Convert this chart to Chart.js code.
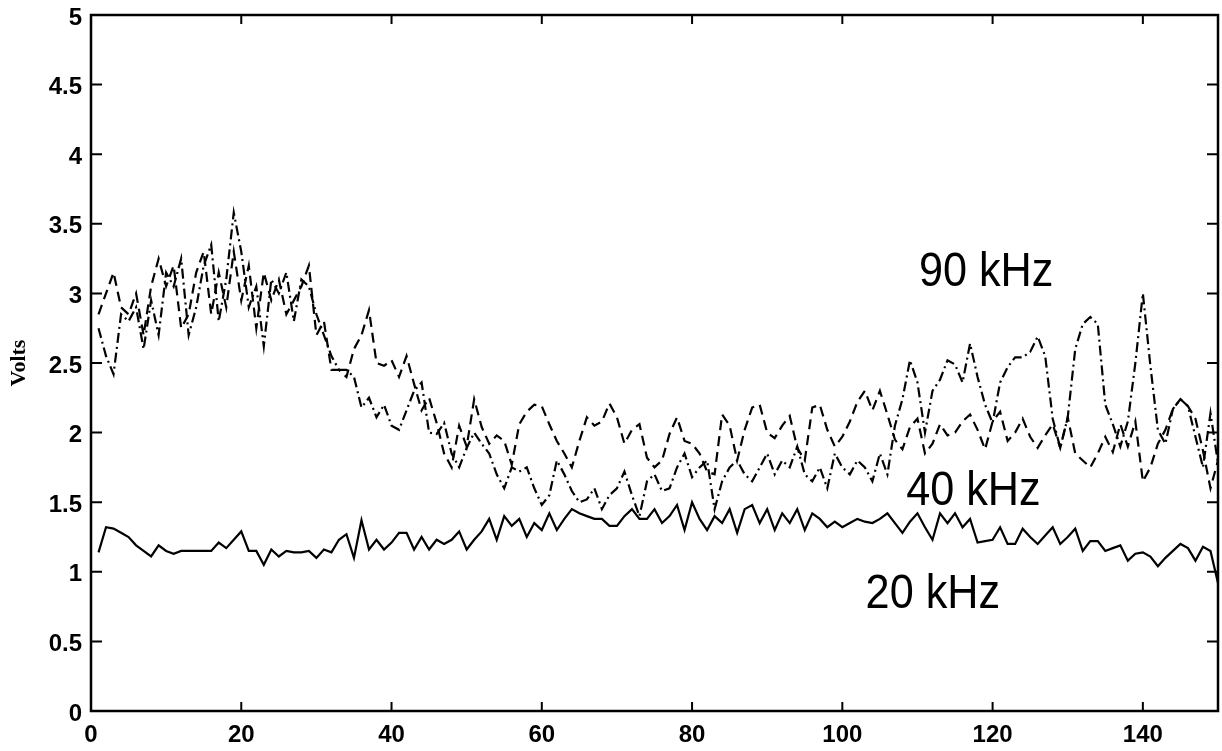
<!DOCTYPE html>
<html lang="en">
<head>
    <meta charset="UTF-8">
    <title>Volts vs sample</title>
    <script src="https://cdn.jsdelivr.net/npm/chart.js"></script>
    <style>
        body {
            margin: 0;
            padding: 0;
            background-color: #fff;
        }
        #wrap {
            width: 1222px;
            height: 751px;
        }
    </style>
</head>
<body>
    <div id="wrap">
        <canvas id="voltsChart" width="1222" height="751"></canvas>
    </div>

    <script>
        // sample index 1..150
        const samples = Array.from({ length: 150 }, (_, i) => i + 1);

        // 20 kHz (solid)
        const volts20 = [
            1.14, 1.32, 1.31, 1.28, 1.25, 1.19, 1.15, 1.11, 1.19, 1.15,
            1.13, 1.15, 1.15, 1.15, 1.15, 1.15, 1.21, 1.17, 1.23, 1.29,
            1.15, 1.15, 1.05, 1.16, 1.11, 1.15, 1.14, 1.14, 1.15, 1.10,
            1.16, 1.14, 1.23, 1.27, 1.10, 1.37, 1.16, 1.23, 1.16, 1.21,
            1.28, 1.28, 1.16, 1.25, 1.16, 1.23, 1.20, 1.23, 1.29, 1.16,
            1.23, 1.29, 1.38, 1.23, 1.40, 1.33, 1.38, 1.25, 1.35, 1.30,
            1.42, 1.30, 1.38, 1.45, 1.42, 1.40, 1.38, 1.38, 1.33, 1.33,
            1.40, 1.45, 1.38, 1.38, 1.45, 1.35, 1.40, 1.48, 1.30, 1.50,
            1.38, 1.30, 1.40, 1.35, 1.45, 1.28, 1.45, 1.48, 1.35, 1.45,
            1.30, 1.42, 1.35, 1.45, 1.30, 1.42, 1.38, 1.32, 1.36, 1.32,
            1.35, 1.38, 1.36, 1.35, 1.38, 1.42, 1.35, 1.28, 1.36, 1.42,
            1.32, 1.23, 1.42, 1.35, 1.42, 1.32, 1.38, 1.21, 1.22, 1.23,
            1.32, 1.20, 1.20, 1.31, 1.25, 1.20, 1.26, 1.32, 1.20, 1.25,
            1.31, 1.15, 1.22, 1.22, 1.15, 1.17, 1.19, 1.08, 1.13, 1.14,
            1.11, 1.04, 1.10, 1.15, 1.20, 1.17, 1.08, 1.18, 1.15, 0.92
        ];

        // 40 kHz (dashed)
        const volts40 = [
            2.85, 3.00, 3.15, 2.90, 2.85, 3.00, 2.70, 3.05, 3.25, 3.05,
            3.20, 2.75, 2.85, 3.15, 3.30, 2.85, 3.15, 2.90, 3.30, 2.95,
            3.20, 2.75, 3.15, 2.95, 3.10, 2.85, 2.95, 3.05, 3.20, 2.70,
            2.80, 2.45, 2.45, 2.40, 2.60, 2.70, 2.88, 2.50, 2.48, 2.52,
            2.40, 2.55, 2.35, 2.16, 2.25, 2.07, 1.85, 1.75, 2.05, 1.90,
            2.24, 2.04, 1.92, 1.98, 1.94, 1.77, 2.06, 2.15, 2.20, 2.19,
            2.06, 1.94, 1.85, 1.75, 1.94, 2.11, 2.05, 2.08, 2.21, 2.11,
            1.92, 2.02, 2.06, 1.82, 1.75, 1.80, 1.99, 2.11, 1.94, 1.92,
            1.85, 1.72, 1.70, 2.13, 2.05, 1.80, 2.02, 2.18, 2.20, 2.00,
            1.96, 2.05, 2.12, 1.89, 1.80, 2.18, 2.20, 2.02, 1.90, 1.97,
            2.08, 2.22, 2.30, 2.16, 2.30, 2.13, 1.95, 1.88, 2.04, 2.10,
            1.85, 1.92, 2.06, 1.98, 2.00, 2.08, 2.13, 2.02, 1.88, 2.08,
            2.15, 1.94, 2.00, 2.10, 1.97, 1.89, 1.98, 2.06, 1.89, 2.11,
            1.85, 1.80, 1.75, 1.85, 1.97, 1.86, 2.06, 1.90, 2.08, 1.65,
            1.75, 1.92, 2.02, 2.17, 2.24, 2.19, 2.10, 1.87, 1.60, 1.80
        ];

        // 90 kHz (dash-dot)
        const volts90 = [
            2.75, 2.55, 2.42, 2.85, 2.80, 2.90, 2.60, 2.95, 2.70, 3.15,
            3.05, 3.25, 2.70, 2.90, 3.20, 3.35, 2.80, 3.10, 3.58, 3.30,
            2.90, 3.05, 2.62, 3.10, 3.00, 3.15, 2.80, 3.10, 3.05, 2.85,
            2.70, 2.55, 2.45, 2.45, 2.40, 2.18, 2.25, 2.11, 2.20, 2.05,
            2.02, 2.16, 2.30, 2.36, 2.00, 1.99, 2.07, 1.85, 1.75, 1.89,
            2.00, 1.92, 1.85, 1.70, 1.60, 1.75, 1.72, 1.75, 1.60, 1.48,
            1.55, 1.80, 1.70, 1.58, 1.50, 1.52, 1.60, 1.45, 1.55, 1.60,
            1.72, 1.55, 1.40, 1.65, 1.70, 1.58, 1.60, 1.75, 1.85, 1.68,
            1.75, 1.80, 1.45, 1.65, 1.75, 1.80, 1.70, 1.65, 1.75, 1.85,
            1.70, 1.80, 1.75, 1.90, 1.70, 1.65, 1.75, 1.60, 1.85, 1.75,
            1.70, 1.80, 1.75, 1.65, 1.85, 1.70, 2.05, 2.24, 2.52, 2.36,
            2.00, 2.30, 2.38, 2.52, 2.49, 2.36, 2.64, 2.40, 2.20, 2.07,
            2.36, 2.47, 2.54, 2.54, 2.58, 2.69, 2.55, 2.10, 1.89, 2.11,
            2.60, 2.78, 2.83, 2.78, 2.20, 2.06, 1.90, 2.08, 2.50, 3.00,
            2.48, 2.02, 1.92, 2.17, 2.24, 2.19, 1.97, 1.75, 2.14, 1.78
        ];

        // text labels next to the curves: [text, x, y]
        const curveLabels = [
            ["90 kHz", 110.2, 3.05],
            ["40 kHz", 108.5, 1.48],
            ["20 kHz", 103.1, 0.74]
        ];

        const toPoints = (ys) => ys.map((y, i) => ({ x: samples[i], y }));

        // frame, inward ticks and curve labels
        const framePlugin = {
            id: "frame",
            afterDraw(chart) {
                const { ctx, chartArea: a, scales } = chart;
                const xs = scales.x;
                const ys = scales.y;
                ctx.save();
                ctx.strokeStyle = "#000";
                ctx.lineWidth = 2.5;
                ctx.strokeRect(a.left, a.top, a.right - a.left, a.bottom - a.top);

                ctx.lineWidth = 2;
                ctx.beginPath();
                xs.ticks.forEach(t => {
                    const px = xs.getPixelForValue(t.value);
                    ctx.moveTo(px, a.bottom);
                    ctx.lineTo(px, a.bottom - 9);
                    ctx.moveTo(px, a.top);
                    ctx.lineTo(px, a.top + 9);
                });
                ys.ticks.forEach(t => {
                    const py = ys.getPixelForValue(t.value);
                    ctx.moveTo(a.left, py);
                    ctx.lineTo(a.left + 11, py);
                    ctx.moveTo(a.right, py);
                    ctx.lineTo(a.right - 11, py);
                });
                ctx.stroke();

                ctx.fillStyle = "#000";
                ctx.font = "48px 'Liberation Sans', Arial, sans-serif";
                ctx.textBaseline = "alphabetic";
                curveLabels.forEach(([text, x, y]) => {
                    const px = xs.getPixelForValue(x);
                    const py = ys.getPixelForValue(y);
                    ctx.save();
                    ctx.translate(px, py);
                    ctx.scale(0.9, 1);
                    ctx.fillText(text, 0, 0);
                    ctx.restore();
                });
                ctx.restore();
            }
        };

        const tickFont = { family: "'Liberation Sans', Arial, sans-serif", size: 24, weight: "bold" };

        new Chart(document.getElementById("voltsChart"), {
            type: "line",
            data: {
                datasets: [
                    {
                        label: "20 kHz",
                        data: toPoints(volts20),
                        borderColor: "#000",
                        borderWidth: 2.2,
                        pointRadius: 0,
                    },
                    {
                        label: "40 kHz",
                        data: toPoints(volts40),
                        borderColor: "#000",
                        borderWidth: 2.2,
                        borderDash: [10, 6],
                        pointRadius: 0,
                    },
                    {
                        label: "90 kHz",
                        data: toPoints(volts90),
                        borderColor: "#000",
                        borderWidth: 2.2,
                        borderDash: [10, 4, 2, 4],
                        pointRadius: 0,
                    }
                ]
            },
            options: {
                responsive: false,
                animation: false,
                devicePixelRatio: 1,
                layout: { padding: { top: 15, right: 4, left: 0, bottom: 0 } },
                plugins: {
                    legend: { display: false },
                    tooltip: { enabled: false },
                },
                scales: {
                    x: {
                        type: "linear",
                        min: 0,
                        max: 150,
                        afterBuildTicks: (scale) => {
                            scale.ticks = scale.ticks.filter(t => t.value % 20 === 0);
                        },
                        afterFit: (scale) => {
                            scale.height = 40;
                            scale.paddingLeft = 0;
                            scale.paddingRight = 0;
                        },
                        ticks: { stepSize: 20, color: "#000", font: tickFont, padding: 10, maxRotation: 0 },
                        grid: { display: false, drawTicks: false },
                        border: { display: false },
                    },
                    y: {
                        min: 0,
                        max: 5,
                        afterFit: (scale) => {
                            scale.width = 91;
                            scale.paddingTop = 0;
                            scale.paddingBottom = 0;
                        },
                        ticks: {
                            stepSize: 0.5,
                            color: "#000",
                            font: tickFont,
                            padding: 9,
                            labelOffset: 3,
                            callback: (v) => String(v),
                        },
                        grid: { display: false, drawTicks: false },
                        border: { display: false },
                        title: {
                            display: true,
                            text: "Volts",
                            color: "#000",
                            padding: { top: 6, bottom: 0 },
                            font: { family: "'Liberation Serif', 'Times New Roman', serif", size: 22, weight: "bold" },
                        },
                    }
                }
            },
            plugins: [framePlugin]
        });
    </script>
</body>
</html>
